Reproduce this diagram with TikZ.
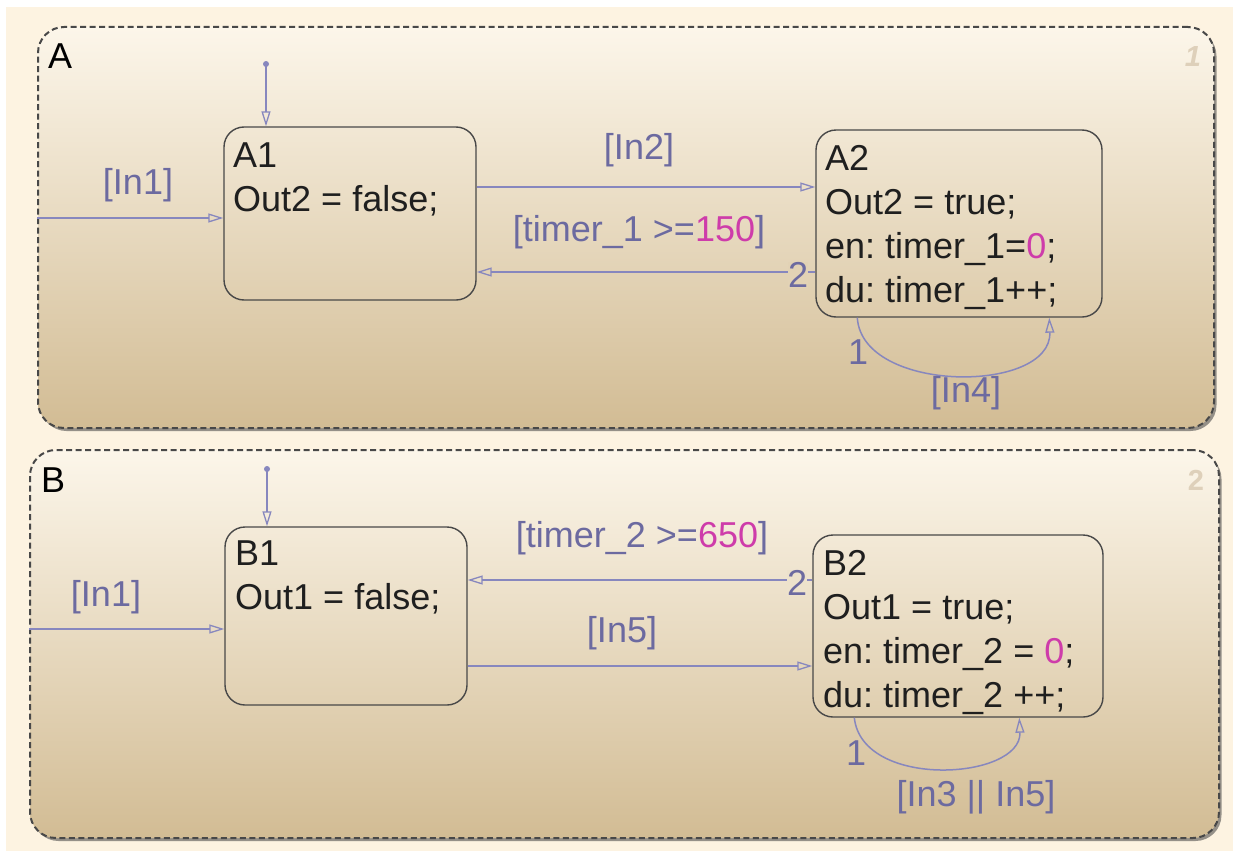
\documentclass[tikz,border=0pt]{standalone}
\usepackage{fontspec}
\setmainfont{Liberation Sans}
\usetikzlibrary{arrows.meta,shadows,calc}
\definecolor{bgcream}{RGB}{253,243,225}
\definecolor{ptop}{RGB}{252,246,234}
\definecolor{pbot}{RGB}{210,188,148}
\definecolor{trline}{RGB}{135,135,190}
\definecolor{trtext}{RGB}{108,106,160}
\definecolor{numc}{RGB}{206,60,170}
\definecolor{bordc}{RGB}{72,72,72}
\definecolor{cornernum}{RGB}{222,208,186}
\definecolor{bgA}{RGB}{226,210,181}
\definecolor{bgB}{RGB}{237,226,204}
\newcommand{\hstr}{\rule{0pt}{30pt}}
\frenchspacing
\begin{document}
\begin{tikzpicture}[x=1pt,y=-1pt,
  parstate/.style={rectangle, rounded corners=26pt, draw=bordc, line width=2pt,
    dash pattern=on 6pt off 3.5pt, top color=ptop, bottom color=pbot, inner sep=0pt,
    drop shadow={shadow xshift=2.5pt,shadow yshift=-3pt,opacity=0.55,fill=black!75}},
  stbox/.style={rectangle, rounded corners=20pt, draw=bordc, line width=1.4pt, inner sep=0pt},
  sttext/.style={anchor=north west, inner sep=0pt, align=left,
    font=\fontsize{36}{44}\selectfont\frenchspacing, text=black!88},
  trans/.style={draw=trline, line width=1.5pt,
    -{Triangle[open,length=15pt,width=9pt,line width=1.3pt]}},
  trlabel/.style={inner sep=0pt, text=trtext, font=\fontsize{36}{44}\selectfont},
  parname/.style={anchor=base west, inner sep=0pt, font=\fontsize{36}{44}\selectfont},
  cnum/.style={inner sep=0pt, text=cornernum, font=\fontsize{29}{34}\selectfont\bfseries}
]
\useasboundingbox (0,0) rectangle (1233,851);
\fill[white] (0,0) rectangle (1233,851);
\fill[bgcream] (6,7) rectangle (1233,851);

% parallel states
\node[parstate, minimum width=1176pt, minimum height=401pt] (A) at (626,227.5) {};
\node[parstate, minimum width=1189pt, minimum height=388pt] (B) at (624.5,644) {};
\node[parname] (An) at (48,68) {A};
\node[parname] (Bn) at (41,492) {B};
\node[cnum, font=\fontsize{29}{34}\selectfont\bfseries\itshape] (Anum) at (1193,57) {1};
\node[cnum] (Bnum) at (1196,480) {2};

% states
\node[stbox, minimum width=252pt, minimum height=173pt] (A1) at (350,213.5) {};
\node[stbox, minimum width=286pt, minimum height=187pt] (A2) at (959,223.5) {};
\node[stbox, minimum width=242pt, minimum height=178pt] (B1) at (346,616) {};
\node[stbox, minimum width=290pt, minimum height=182pt] (B2) at (958,626) {};

\node[sttext] (A1t) at (233,137) {\hstr A1\\Out2 = false;};
\node[sttext] (A2t) at (825,140) {\hstr A2\\Out2 = true;\\en: timer\_1=\textcolor{numc}{0};\\du: timer\_1++;};
\node[sttext] (B1t) at (235,535) {\hstr B1\\Out1 = false;};
\node[sttext] (B2t) at (823,545) {\hstr B2\\Out1 = true;\\en: timer\_2 = \textcolor{numc}{0};\\du: timer\_2 ++;};

% chart A transitions
\coordinate (A0) at (266,64);
\fill[trline] (A0) circle (3pt);
\draw[trans] (A0) -- (A0 |- A1.north);

\coordinate (Ain) at (A.west |- 0,218);
\draw[trans] (Ain) -- (Ain -| A1.west);
\node[trlabel] (LA1) at (138,185) {[In1]};

\draw[trans] (A1.east |- 0,187) -- (A2.west |- 0,187);
\node[trlabel] (LA2) at (639,150) {[In2]};

\draw[trans] (A2.west |- 0,272) -- (A1.east |- 0,272);
\node[trlabel] (LA3) at (639,232) {[timer\_1 >=\textcolor{numc}{150}]};
\node[trlabel, fill=bgA] (PA3) at (798,275) {2};

\draw[trans] ($(A2.south west)+(42,0)$) .. controls (862,394) and (1052,394) .. ($(A2.south west)+(234,0)$);
\node[trlabel] (PA4) at (858,352) {1};
\node[trlabel] (LA4) at (966,393) {[In4]};

% chart B transitions
\coordinate (B0) at (267,469);
\fill[trline] (B0) circle (3pt);
\draw[trans] (B0) -- (B0 |- B1.north);

\coordinate (Bin) at (B.west |- 0,629);
\draw[trans] (Bin) -- (Bin -| B1.west);
\node[trlabel] (LB1) at (106,597) {[In1]};

\draw[trans] (B2.west |- 0,580) -- (B1.east |- 0,580);
\node[trlabel] (LB2) at (642,538) {[timer\_2 >=\textcolor{numc}{650}]};
\node[trlabel, fill=bgB] (PB2) at (797,583) {2};

\draw[trans] (B1.east |- 0,666) -- (B2.west |- 0,666);
\node[trlabel] (LB3) at (622,633) {[In5]};

\draw[trans] ($(B2.south west)+(42,0)$) .. controls (862,790) and (1022,780) .. ($(B2.south west)+(207,0)$);
\node[trlabel] (PB4) at (856,753) {1};
\node[trlabel] (LB4) at (976,797) {[In3 || In5]};
\end{tikzpicture}
\end{document}
